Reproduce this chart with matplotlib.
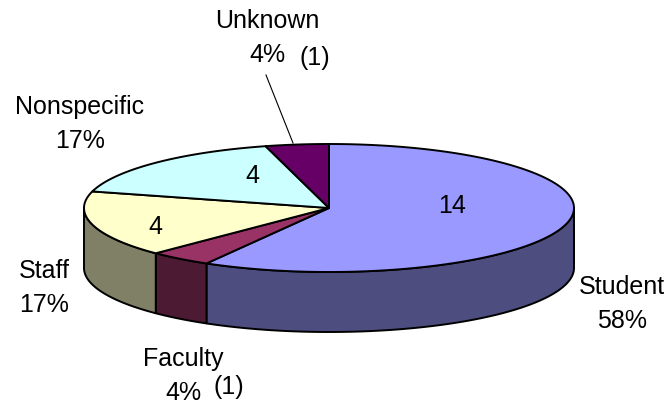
import numpy as np
import matplotlib
matplotlib.use("Agg")
import matplotlib.pyplot as plt

plt.rcParams['font.family'] = ['Liberation Sans', 'DejaVu Sans']

# === data ===
labels = ['Student', 'Faculty', 'Staff', 'Nonspecific', 'Unknown']
values = [14, 1, 4, 4, 1]
percents = ['58%', '4%', '17%', '17%', '4%']
top_colors = ['#9999FF', '#993366', '#FFFFCC', '#CCFFFF', '#660066']
side_colors = ['#4D4D80', '#4D1A33', '#808066', '#668080', '#330033']

# === pie geometry, in pixels of the 672x408 figure ===
cx, cy = 329, 208
rx, ry = 245, 64
depth = 60

fig = plt.figure(figsize=(6.72, 4.08), dpi=100)
ax = fig.add_axes([0, 0, 1, 1])
ax.set_xlim(0, 672)
ax.set_ylim(408, 0)
ax.axis('off')


def rim(a0, a1):
    t = np.radians(np.linspace(a0, a1, 200))
    return cx + rx * np.cos(t), cy - ry * np.sin(t)


# angles run clockwise from 12 o'clock
edges = 90 - 360 * np.cumsum([0] + values) / sum(values)

# sides first (only the front half of the rim shows)
for i in range(len(values)):
    a0, a1 = edges[i], edges[i + 1]
    a0 = min(a0, 0)
    a1 = max(a1, -180)
    if a0 <= a1:
        continue
    x, y = rim(a0, a1)
    ax.fill(np.r_[x, x[::-1]], np.r_[y, y[::-1] + depth],
            facecolor=side_colors[i], edgecolor='black', lw=1.4, joinstyle='round')

# top slices
for i in range(len(values)):
    x, y = rim(edges[i], edges[i + 1])
    ax.fill(np.r_[cx, x], np.r_[cy, y],
            facecolor=top_colors[i], edgecolor='black', lw=1.4, joinstyle='round')

# leader line for Unknown
ax.plot([266, 293], [75, 143], color='black', lw=0.8)

# labels, name and percent on their own lines
fs = 18
label_pos = [(622, 287), (183, 359), (44, 271), (80, 107), (267, 21)]
line_gap = 34
for name, pct, (lx, ly) in zip(labels, percents, label_pos):
    ax.text(lx, ly, name, ha='center', va='center', fontsize=fs)
    ax.text(lx, ly + line_gap, pct, ha='center', va='center', fontsize=fs)
ax.text(315, 58, '(1)', ha='center', va='center', fontsize=fs)
ax.text(229, 387, '(1)', ha='center', va='center', fontsize=fs)

# counts on the slices
ax.text(452, 206, str(values[0]), ha='center', va='center', fontsize=fs)
ax.text(155, 227, str(values[2]), ha='center', va='center', fontsize=fs)
ax.text(252, 176, str(values[3]), ha='center', va='center', fontsize=fs)

fig.savefig('out.png', dpi=100)
